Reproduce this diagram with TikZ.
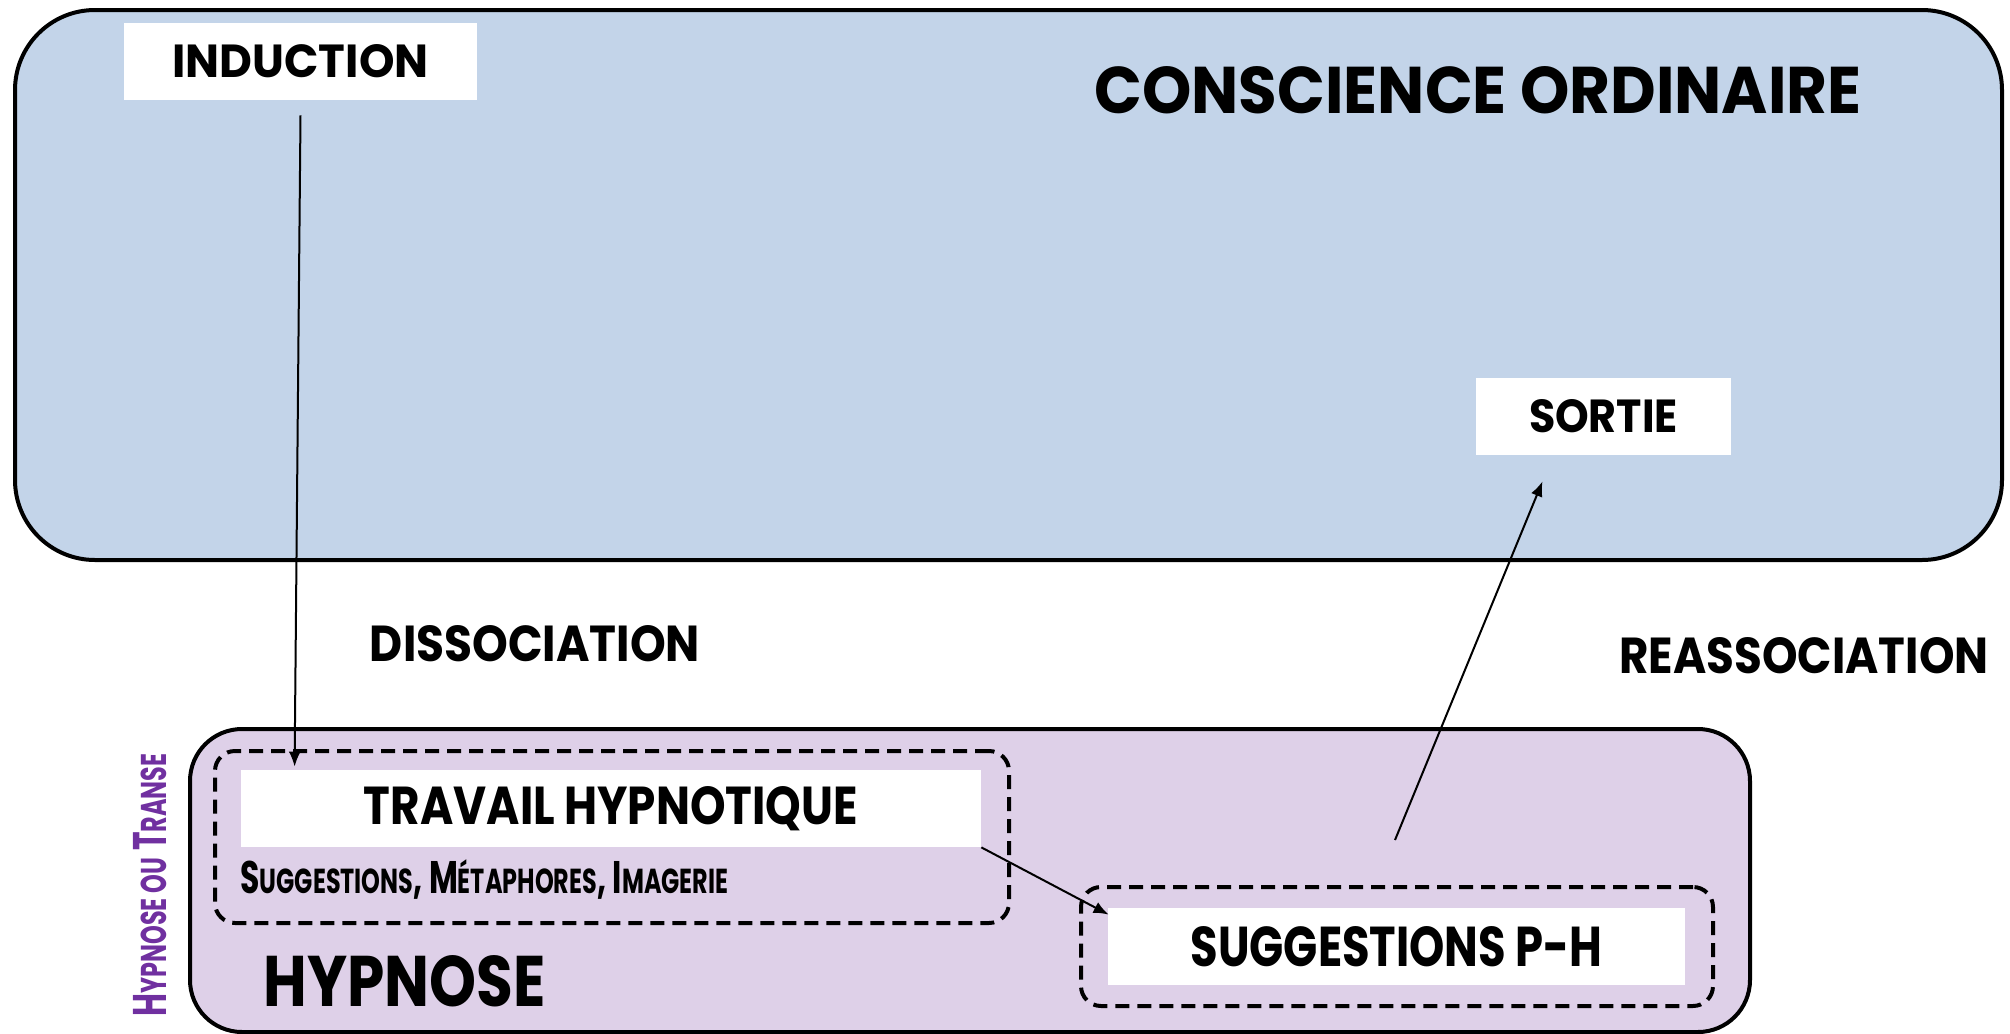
\documentclass[tikz,border=0pt]{standalone}
\usepackage{fontspec}
\setmainfont{Poppins}
\usetikzlibrary{arrows.meta,calc}
\definecolor{Sky}{HTML}{C3D4E9}
\definecolor{Lilac}{HTML}{DED0E8}
\definecolor{Plum}{HTML}{7030A0}
\newcommand\sized[3]{\resizebox{#1}{#2}{#3}}
\newcommand\lowcaps[1]{{\fontsize{7.6}{9}\selectfont #1}}
\tikzset{zone/.style={draw,line width=2pt,inner sep=0pt},tag/.style={fill=white,inner sep=0pt,font=\bfseries},group/.style={draw,line width=2pt,dash pattern=on 7pt off 4pt,rounded corners=10pt,inner sep=0pt},title/.style={inner sep=0pt,font=\bfseries},flow/.style={-{Latex[length=7.5pt,width=6pt]},line width=1pt}}

\begin{document}
\begin{tikzpicture}[x=0.5pt,y=-0.5pt]
      \useasboundingbox (0,0) rectangle (2010,1034);
      % the two states
      \node[zone,fill=Sky,rounded corners=40pt,minimum width=993.5pt,minimum height=275pt](conscience) at (1008.5,285){};
      \node[zone,fill=Lilac,rounded corners=26pt,minimum width=780pt,minimum height=151.5pt](hypnose) at (970,880.5){};
      \node[title](conscienceTitle) at (1478,90){\sized{383.5pt}{23.5pt}{CONSCIENCE ORDINAIRE}};
      \node[title,anchor=west](hypnoseTitle) at (263,981){\sized{141pt}{25.5pt}{HYPNOSE}};
      \node[title,text=Plum,rotate=90](transe) at (150,885){\scalebox{1}[1.5]{\sized{131.5pt}{!}{H\lowcaps{YPNOSE OU} T\lowcaps{RANSE}}}};
      % steps
      \node[tag,minimum width=176.5pt,minimum height=38.5pt](induction) at (300.5,61.5){\sized{128pt}{16.5pt}{INDUCTION}};
      \node[tag,minimum width=127.5pt,minimum height=38.5pt](sortie) at (1603.5,416.5){\sized{74.5pt}{16.5pt}{SORTIE}};
      \node[group,minimum width=397pt,minimum height=86pt](travailGroup) at (612,837){};
      \node[tag,minimum width=370pt,minimum height=38.5pt](travail) at (611,808.5){\sized{247pt}{19pt}{TRAVAIL HYPNOTIQUE}};
      \node[title,anchor=base west](outils) at (240,893){\scalebox{1}[1.45]{\sized{244pt}{!}{S\lowcaps{UGGESTIONS}, M\lowcaps{ÉTAPHORES}, I\lowcaps{MAGERIE}}}};
      \node[group,minimum width=316pt,minimum height=59.5pt](phGroup) at (1397,946.5){};
      \node[tag,minimum width=288.5pt,minimum height=38.5pt](ph) at (1396.5,946.5){\sized{206pt}{20pt}{SUGGESTIONS P-H}};
      % transitions
      \node[title](dissociation) at (535,644){\sized{165pt}{18pt}{DISSOCIATION}};
      \node[title](reassociation) at (1804,656){\sized{184.5pt}{18pt}{REASSOCIATION}};
      \coordinate (remontee) at (1395,840);
      \draw[flow]($(induction.south)+(0,15)$)--($(travail.north west)+(54,-3)$);
      \draw[flow](travail.south east)--($(ph.north west)+(1,7)$);
      \draw[flow](remontee)--($(sortie.south)+(-61,26)$);
    \end{tikzpicture}
\end{document}
